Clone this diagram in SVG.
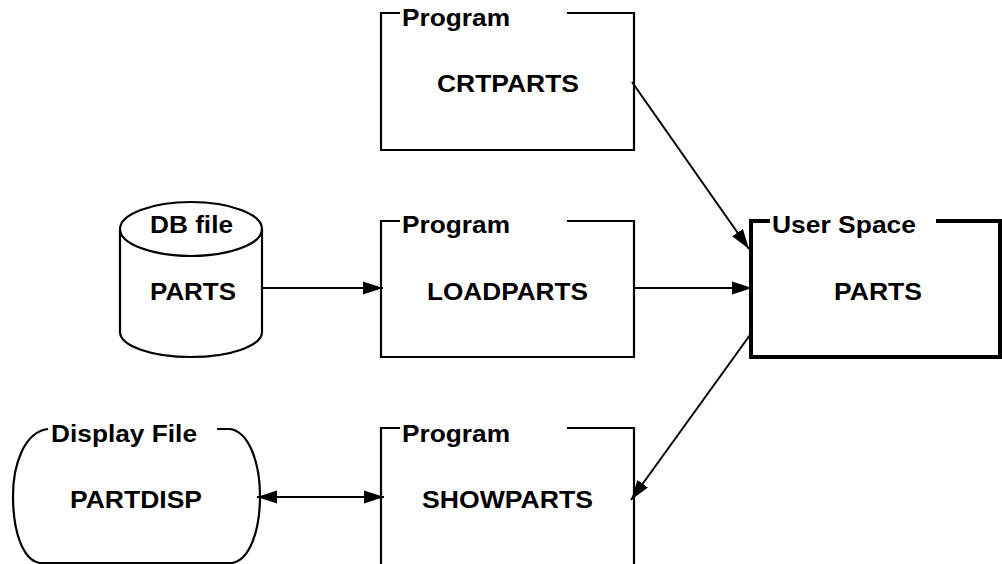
<svg xmlns="http://www.w3.org/2000/svg" width="1002" height="564" viewBox="0 0 1002 564">
<style>
.ln{fill:none;stroke:#000;stroke-width:2.2}
.thick{fill:none;stroke:#000;stroke-width:4}
.t{font-family:"Liberation Sans",Arial,sans-serif;font-weight:bold;font-size:24px;fill:#000}
.c{stroke:#000;stroke-width:2;fill:none}
</style>
<defs>
<marker id="ah" markerUnits="userSpaceOnUse" markerWidth="22" markerHeight="14" refX="20" refY="7" orient="auto">
<path d="M0,0.5 L20,7 L0,13.5 Z" fill="#000"/>
</marker>
<marker id="ahs" markerUnits="userSpaceOnUse" markerWidth="22" markerHeight="14" refX="0" refY="7" orient="auto">
<path d="M20,0.5 L0,7 L20,13.5 Z" fill="#000"/>
</marker>
</defs>
<rect width="1002" height="564" fill="#fff"/>
<g id="crtparts">
<path class="ln" d="M400,13 L381,13 L381,150 L634,150 L634,13 L567,13"/>
<text class="t" x="402" y="26" textLength="108" lengthAdjust="spacingAndGlyphs">Program</text>
<text class="t" x="437" y="92" textLength="142" lengthAdjust="spacingAndGlyphs">CRTPARTS</text>
</g>
<g id="dbfile">
<ellipse class="ln" cx="191" cy="229" rx="71" ry="27"/>
<path class="ln" d="M120,229 L120,332 A71,25 0 0 0 262,332 L262,229"/>
<text class="t" x="150" y="233" textLength="83" lengthAdjust="spacingAndGlyphs">DB file</text>
<text class="t" x="150" y="300" textLength="86" lengthAdjust="spacingAndGlyphs">PARTS</text>
</g>
<g id="loadparts">
<path class="ln" d="M400,221 L381,221 L381,357 L634,357 L634,221 L567,221"/>
<text class="t" x="402" y="233" textLength="108" lengthAdjust="spacingAndGlyphs">Program</text>
<text class="t" x="427" y="300" textLength="161" lengthAdjust="spacingAndGlyphs">LOADPARTS</text>
</g>
<g id="userspace">
<path class="thick" d="M770,221 L751,221 L751,357 L1000,357 L1000,221 L936,221"/>
<text class="t" x="772" y="233" textLength="144" lengthAdjust="spacingAndGlyphs">User Space</text>
<text class="t" x="834" y="300" textLength="88" lengthAdjust="spacingAndGlyphs">PARTS</text>
</g>
<g id="displayfile">
<path class="ln" d="M48,429 C24,432 13,465 13,496 C13,530 22,560 40,563 L232,563 C250,560 260,530 260,496 C260,465 250,432 230,429 L217,429"/>
<text class="t" x="51" y="442" textLength="146" lengthAdjust="spacingAndGlyphs">Display File</text>
<text class="t" x="70" y="508" textLength="132" lengthAdjust="spacingAndGlyphs">PARTDISP</text>
</g>
<g id="showparts">
<path class="ln" d="M400,428 L381,428 L381,570 M634,570 L634,428 L567,428"/>
<text class="t" x="402" y="442" textLength="108" lengthAdjust="spacingAndGlyphs">Program</text>
<text class="t" x="422" y="508" textLength="171" lengthAdjust="spacingAndGlyphs">SHOWPARTS</text>
</g>
<g id="connectors">
<line class="c" x1="262" y1="288" x2="383" y2="288" marker-end="url(#ah)"/>
<line class="c" x1="634" y1="288" x2="752" y2="288" marker-end="url(#ah)"/>
<line class="c" x1="632" y1="82" x2="749" y2="249" marker-end="url(#ah)"/>
<line class="c" x1="750" y1="335" x2="631" y2="500" marker-end="url(#ah)"/>
<line class="c" x1="257" y1="497" x2="384" y2="497" marker-start="url(#ahs)" marker-end="url(#ah)"/>
</g>
</svg>
